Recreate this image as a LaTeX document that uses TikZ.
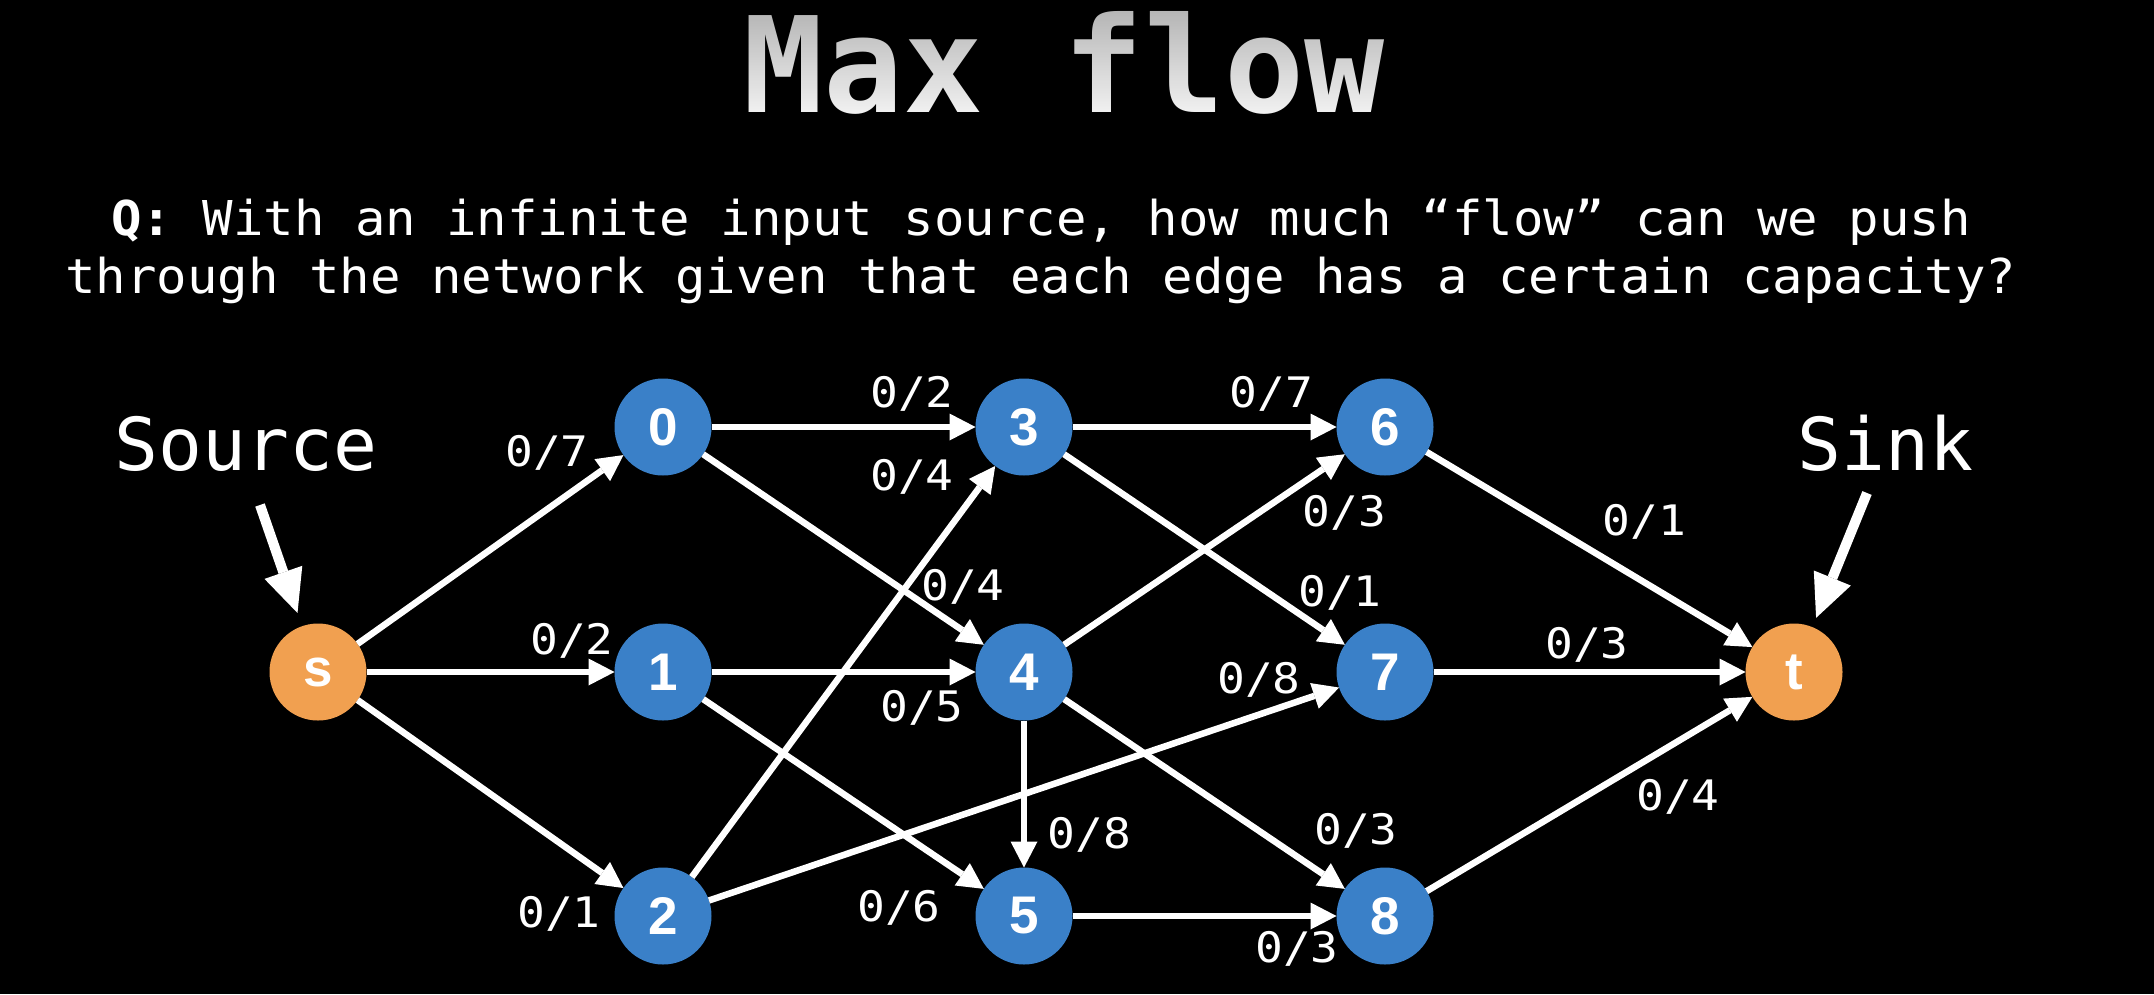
\documentclass[tikz,border=0pt]{standalone}
\usepackage{fontspec}
\usetikzlibrary{arrows.meta,fadings}
\newfontfamily\monofont{DejaVu Sans Mono}
\newfontfamily\qfont{DejaVu Sans Mono}[FakeStretch=1.055]
\newfontfamily\lblfont{DejaVu Sans Mono}[FakeStretch=1.1]
\newfontfamily\vtxfont{Liberation Sans}
\definecolor{nodeblue}{RGB}{58,128,200}
\definecolor{nodeorange}{RGB}{241,160,80}
\definecolor{titlegray}{RGB}{242,242,242}
\tikzfading[name=titleshade, top color=transparent!74, bottom color=transparent!100]
\begin{document}
\begin{tikzpicture}[x=1pt,y=-1pt,
  vtx/.style={circle, minimum size=97pt, inner sep=0pt, outer sep=0pt, fill=nodeblue, text=white,
    font=\vtxfont\bfseries\fontsize{53}{53}\selectfont},
  endvtx/.style={vtx, fill=nodeorange},
  edge/.style={draw=white, line width=6.5pt, -{Triangle[length=26pt,width=27pt,line width=0pt]}},
  caplbl/.style={text=white, inner sep=0pt, anchor=base, font=\lblfont\fontsize{42}{42}\selectfont},
  bigarrow/.style={draw=white, line width=10pt, -{Triangle[length=43pt,width=40pt,line width=0pt]}},
  txt/.style={text=white, inner sep=0pt, anchor=base}
]
\fill[black] (0,0) rectangle (2154,994);

% title
\node[txt, text=titlegray, font=\monofont\bfseries\fontsize{133}{133}\selectfont] (title) at (1064,112) {Max flow};
\fill[black, path fading=titleshade] (735,6) rectangle (1395,114);

% question
\node[txt, font=\qfont\fontsize{48}{48}\selectfont] (q1) at (1041,235) {\textbf{Q:} With an infinite input source, how much “flow” can we push};
\node[txt, font=\qfont\fontsize{48}{48}\selectfont] (q2) at (1041,293) {through the network given that each edge has a certain capacity?};

% source / sink labels
\node[txt, font=\monofont\fontsize{73}{73}\selectfont] (srclbl) at (246,470) {Source};
\node[txt, font=\monofont\fontsize{73}{73}\selectfont] (snklbl) at (1885.5,470) {Sink};

% vertices
\node[endvtx] (s) at (318,672) {s};
\node[vtx] (n0) at (663,427) {0};
\node[vtx] (n1) at (663,672) {1};
\node[vtx] (n2) at (663,916) {2};
\node[vtx] (n3) at (1024,427) {3};
\node[vtx] (n4) at (1024,672) {4};
\node[vtx] (n5) at (1024,916) {5};
\node[vtx] (n6) at (1385,427) {6};
\node[vtx] (n7) at (1385,672) {7};
\node[vtx] (n8) at (1385,916) {8};
\node[endvtx] (t) at (1794,672) {t};

% source / sink arrows
\coordinate (srcA) at (260,505);
\coordinate (snkA) at (1867,493);
\draw[bigarrow, shorten >=14pt] (srcA) -- (s);
\draw[bigarrow, shorten >=10pt] (snkA) -- (t);

% edges
\draw[edge] (s) -- (n0);
\draw[edge] (s) -- (n1);
\draw[edge] (s) -- (n2);
\draw[edge] (n0) -- (n3);
\draw[edge] (n0) -- (n4);
\draw[edge] (n1) -- (n4);
\draw[edge] (n1) -- (n5);
\draw[edge] (n2) -- (n3);
\draw[edge] (n2) -- (n7);
\draw[edge] (n3) -- (n6);
\draw[edge] (n3) -- (n7);
\draw[edge] (n4) -- (n6);
\draw[edge] (n4) -- (n5);
\draw[edge] (n4) -- (n8);
\draw[edge] (n5) -- (n8);
\draw[edge] (n6) -- (t);
\draw[edge] (n7) -- (t);
\draw[edge] (n8) -- (t);

% capacity labels
\node[caplbl] (c-s0) at (547,466) {0/7};
\node[caplbl] (c-s1) at (572,654) {0/2};
\node[caplbl] (c-s2) at (559,927) {0/1};
\node[caplbl] (c-03) at (912,407) {0/2};
\node[caplbl] (c-23) at (912,490) {0/4};
\node[caplbl] (c-04) at (963,600) {0/4};
\node[caplbl] (c-14) at (922,721) {0/5};
\node[caplbl] (c-15) at (899,921) {0/6};
\node[caplbl] (c-36) at (1271.5,407) {0/7};
\node[caplbl] (c-46) at (1344.5,526) {0/3};
\node[caplbl] (c-37) at (1340,606) {0/1};
\node[caplbl] (c-27) at (1259,693) {0/8};
\node[caplbl] (c-48) at (1356,844) {0/3};
\node[caplbl] (c-58) at (1297,962) {0/3};
\node[caplbl] (c-45) at (1089.5,848) {0/8};
\node[caplbl] (c-6t) at (1644.6,535) {0/1};
\node[caplbl] (c-7t) at (1587,658) {0/3};
\node[caplbl] (c-8t) at (1678,810) {0/4};
\end{tikzpicture}
\end{document}
